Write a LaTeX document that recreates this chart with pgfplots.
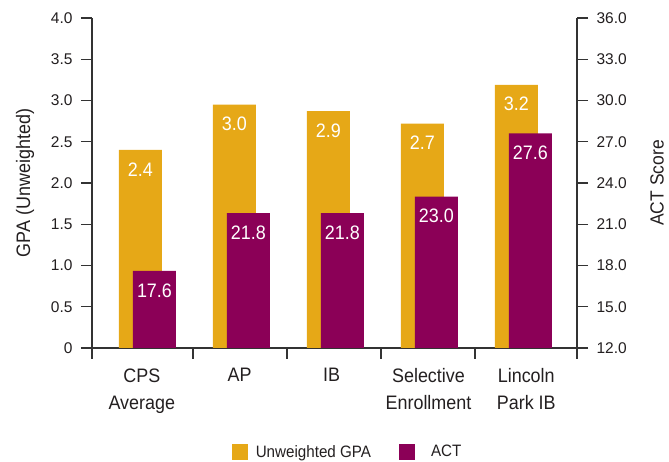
\documentclass[border=0pt]{standalone}
\usepackage{fontspec}
\setmainfont[FakeStretch=0.92]{Liberation Sans}
\newfontfamily\tickfont{Liberation Sans}
\usepackage{pgfplots}
\pgfplotsset{compat=1.18}

\definecolor{gpagold}{HTML}{E6A817}
\definecolor{actpurple}{HTML}{8B0057}
\definecolor{axisgray}{HTML}{333333}
\definecolor{txt}{HTML}{231F20}

\pgfplotsset{
  base/.style={
    scale only axis, width=485pt, height=330pt,
    at={(0,0)}, anchor=south west,
    xmin=-0.59, xmax=4.57,
    axis line style={axisgray, line width=1.2pt},
    major tick style={axisgray, line width=1.2pt},
    major tick length=11pt, tick align=outside,
    ybar, bar width=0.457, bar shift=0pt,
    nodes near coords, point meta=explicit symbolic,
    every node near coord/.append style={font=\fontsize{19.5}{20}\selectfont,
      color=white, anchor=north, yshift=-9pt},
    tick label style={font=\tickfont\fontsize{15.5}{16}\selectfont, color=txt},
  }
}

\begin{document}
\begin{tikzpicture}
\begin{axis}[base,
  axis x line*=bottom, axis y line*=left,
  ymin=0, ymax=4,
  ytick={0,0.5,1,1.5,2,2.5,3,3.5,4},
  yticklabels={0,0.5,1.0,1.5,2.0,2.5,3.0,3.5,4.0},
  yticklabel style={xshift=-5pt},
  xtick={-0.59,0.484,1.484,2.484,3.484,4.57},
  xticklabels={},
  extra x ticks={-0.06,0.98,1.96,2.99,4.03},
  extra x tick labels={{CPS\\Average},{AP},{IB},{Selective\\Enrollment},{Lincoln\\Park IB}},
  extra x tick style={major tick length=0pt,
    tick label style={font=\fontsize{19.5}{27}\selectfont, align=center, yshift=-17pt}},
  ylabel={GPA (Unweighted)},
  every axis y label/.style={at={(axis description cs:-0.138,0.5)}, rotate=90, anchor=center,
    font=\fontsize{19.5}{20}\selectfont, color=txt},
  legend columns=2,
  legend style={draw=none, fill=none, at={(axis description cs:0.527,-0.315)}, anchor=center,
    font=\fontsize{16.5}{18}\selectfont, text=txt,
    /tikz/every odd column/.append style={column sep=6pt},
    /tikz/every even column/.append style={column sep=26pt}},
  legend image code/.code={\path[#1, draw=none] (0pt,-8pt) rectangle (16pt,8pt);},
]
\addplot[fill=gpagold, draw=none] coordinates {
  (-0.0745,2.40) [2.4]
  (0.9255,2.95) [3.0]
  (1.9255,2.87) [2.9]
  (2.9255,2.72) [2.7]
  (3.9255,3.19) [3.2]
};
\addlegendentry{Unweighted GPA}
\addlegendimage{fill=actpurple, draw=none}
\addlegendentry{\hspace{8pt}ACT}
\end{axis}

\begin{axis}[base,
  axis x line=none, axis y line*=right,
  ymin=12, ymax=36,
  ytick={12,15,18,21,24,27,30,33,36},
  yticklabels={12.0,15.0,18.0,21.0,24.0,27.0,30.0,33.0,36.0},
  yticklabel style={xshift=5pt},
  ylabel={ACT Score},
  every axis y label/.style={at={(axis description cs:1.165,0.5)}, rotate=90, anchor=center,
    font=\fontsize{19}{20}\selectfont, color=txt, inner sep=0pt},
]
\addplot[fill=actpurple, draw=none] coordinates {
  (0.0745,17.6) [17.6]
  (1.0745,21.8) [21.8]
  (2.0745,21.8) [21.8]
  (3.0745,23.0) [23.0]
  (4.0745,27.6) [27.6]
};
\end{axis}
\pgfresetboundingbox
\useasboundingbox (-92pt,-114pt) rectangle (577pt,348pt);
\end{tikzpicture}
\end{document}
